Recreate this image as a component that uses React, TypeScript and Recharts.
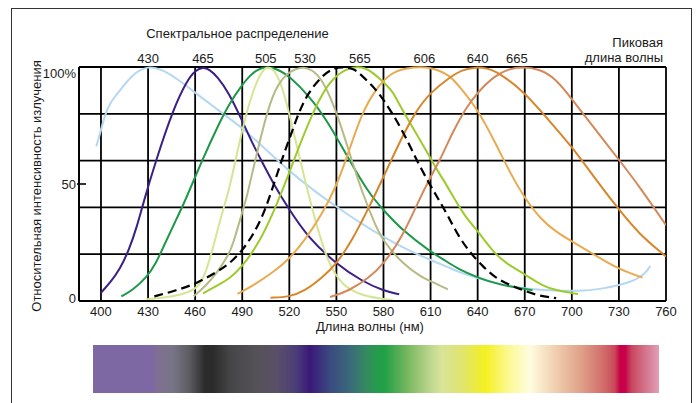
import React from 'react';
import { LineChart, Line, XAxis, YAxis, CartesianGrid } from 'recharts';

const FONT = '"Liberation Sans", Arial, Helvetica, sans-serif';

// wavelength grid / axis ticks
const bottomTicks = [400, 430, 460, 490, 520, 550, 580, 610, 640, 670, 700, 730, 760];
const peakTicks = [430, 465, 505, 530, 565, 606, 640, 665];
const yTicks = [0, 50, 100];
const yGridTicks = [0, 20, 40, 60, 80, 100];
const xDomain: [number, number] = [386, 760];

// series: [wavelength nm, relative intensity %]
const blue430: [number, number][] = [
  [397, 66], [400, 73], [402.5, 79.5], [406, 85], [412, 90], [420, 96.5], [425, 98.8], [430, 100],
  [435, 99.6], [440, 98.5], [450, 94.3], [460, 89], [470, 84], [481, 78.4], [490, 74], [503, 66],
  [519, 56], [535, 47.5], [550, 40.3], [566, 33], [580, 27.3], [596, 21.6], [610, 17.5], [622, 14.2],
  [628, 12.4], [640, 9.6], [658, 6.6], [670, 5.3], [690, 4.4], [705, 4.3], [718, 5], [730, 6.8],
  [738, 8.3], [743, 10], [747, 12], [750, 15],
];
const violet465: [number, number][] = [
  [400, 3.5], [406, 8], [412, 13.5], [418, 22], [423, 32], [427, 42], [435, 60], [446, 82],
  [455, 94.4], [460, 98.5], [465, 100], [469, 99], [474, 96], [481.5, 89], [490, 77], [496, 68],
  [503, 59], [510, 50], [519, 40], [532, 27], [550, 15.8], [566, 8.6], [580, 4.3], [590, 2.9],
];
const green505: [number, number][] = [
  [413, 2], [420, 4.5], [429, 10], [435, 16], [440, 23.5], [447, 33.5], [453.5, 42.5], [463, 58],
  [476, 77], [482, 84.5], [489, 91.5], [495, 96.5], [500, 99], [505, 100], [509, 99.7], [514, 98.5],
  [520, 96], [532.5, 87.8], [545, 76.3], [558, 60.4], [570.7, 46], [580, 38.8], [592, 30.2],
  [610, 21], [620, 17], [628, 13.5], [640, 10], [653, 7], [675, 4.6],
];
const pale508: [number, number][] = [
  [429, 0.7], [440, 1.5], [450, 2.5], [460, 4.7], [465, 9], [470, 19], [476, 35], [481.5, 47],
  [486, 61], [490, 73], [495, 86], [500, 95], [503, 98.5], [506, 100], [508.5, 99.5], [511, 98],
  [515.5, 92], [521.8, 75], [527, 60], [532.5, 44.6], [538.8, 29], [545, 16], [553.7, 6.5],
  [566, 2.2], [586, 0.3],
];
const olive530: [number, number][] = [
  [459, 2], [466, 6], [474, 12], [481.5, 20], [484, 24], [490, 38], [493, 44.5], [498.5, 61],
  [507, 84], [513, 93], [519, 97.5], [524, 99.2], [529, 100], [534, 99], [541, 95], [550, 81],
  [558, 64], [566, 47], [575, 32], [580, 25.5], [592, 16], [604.6, 10], [610, 8.5], [621, 5],
];
const dashed555: [number, number][] = [
  [434, 2], [448, 4.5], [461, 7.5], [474, 12.5], [482, 16], [490, 21.6], [496, 27.3], [503, 36],
  [509, 47.5], [515, 60], [521, 71], [526, 80.6], [532, 89], [541, 96.4], [548, 99.5], [554, 100],
  [561, 99.4], [566, 96.5], [575, 90.6], [581, 85], [588, 77.7], [596, 67.6], [602, 59], [609, 50.4],
  [615, 43.5], [621, 36.5], [628, 27.3], [636, 20], [643, 15], [651, 10], [660, 7], [670, 4.3],
  [679, 2.2], [690, 1.2],
];
const lime565: [number, number][] = [
  [465, 3.3], [475, 7], [481.5, 9.4], [490, 14.4], [503, 27.3], [513, 43], [519, 53], [527, 67.6],
  [537, 83.5], [545, 93.5], [556, 99.5], [564, 100], [568, 99.6], [573, 97.8], [580, 93.5],
  [586, 89.5], [590, 84], [600, 72.5], [610, 61], [615, 55], [619.5, 50.4], [624, 45], [632, 36],
  [640, 30], [649, 21.6], [658, 16], [670, 11.5], [681, 6.5], [690, 4.5], [704, 3],
];
const amber606: [number, number][] = [
  [487, 3], [498, 7], [511, 13], [519, 17.3], [530, 26], [541, 37.4], [550, 49], [558, 64],
  [566, 80], [575, 90.6], [585, 97.8], [595, 99.6], [604, 100], [610, 99.6], [615, 98.6],
  [622, 96.5], [628, 92], [640, 82], [651, 68], [662, 53], [670, 44], [680, 35], [690, 29.5],
  [700, 25.5], [715, 19.5], [730, 13.5], [745, 10],
];
const orange640: [number, number][] = [
  [508, 1.4], [520, 1.7], [530, 4.3], [541, 10], [550, 15.8], [560, 25.9], [571, 40.3], [580, 53],
  [590, 67.6], [600, 80.6], [610, 89.2], [622, 95.5], [630, 98.8], [639, 100], [646, 99.5],
  [653, 97.8], [670, 89.2], [683, 79], [700, 66], [713, 54], [730, 39], [743, 28.5], [760, 19],
];
const copper665: [number, number][] = [
  [546, 1.7], [558, 4.3], [571, 10], [580, 15.8], [592, 27.3], [602.5, 43], [610, 53], [615, 59],
  [620, 66], [624, 72], [632, 82], [640, 89.2], [651, 96.4], [660, 99.2], [668, 100], [679, 99.3],
  [690, 95], [700, 86.3], [713, 75], [720, 69], [730, 60.4], [743, 49], [760, 32.4],
];

const toRows = (pts: [number, number][]) => pts.map(([nm, v]) => ({ nm, v }));

const series = [
  { key: 'b430', pts: blue430, color: '#b5d8f2', dash: undefined as string | undefined },
  { key: 'v465', pts: violet465, color: '#3a1f85', dash: undefined },
  { key: 'g505', pts: green505, color: '#1c9848', dash: undefined },
  { key: 'p508', pts: pale508, color: '#d5e593', dash: undefined },
  { key: 'o530', pts: olive530, color: '#b6ba84', dash: undefined },
  { key: 'l565', pts: lime565, color: '#9dcb2c', dash: undefined },
  { key: 'a606', pts: amber606, color: '#e9aa50', dash: undefined },
  { key: 'r640', pts: orange640, color: '#d7862a', dash: undefined },
  { key: 'c665', pts: copper665, color: '#d4895a', dash: undefined },
  { key: 'd555', pts: dashed555, color: '#000000', dash: '9 5' },
];

const yLabels: Record<number, string> = { 0: '0', 50: '50', 100: '100%' };
const yDy: Record<number, number> = { 0: 2, 50: 4.6, 100: 11 };
const Y_LABEL_RIGHT = 76;

const YTick = (props: any) => {
  const { y, payload } = props;
  const v = payload.value as number;
  return (
    <g>
      <text x={Y_LABEL_RIGHT} y={y + yDy[v]} textAnchor="end" fontSize={13} fill="#1a1a1a" fontFamily={FONT}>
        {yLabels[v]}
      </text>
      {v === 50 ? <line x1={Y_LABEL_RIGHT + 1} x2={Y_LABEL_RIGHT + 10} y1={y} y2={y} stroke="#000" strokeWidth={1.6} /> : null}
    </g>
  );
};

const spectrum =
  'linear-gradient(to right, #7d68a4 0%, #7d68a4 10.6%, #807090 11.5%, #787488 14.1%, #5c5b60 17.1%, #2b2b2b 19.8%, #2b2b2b 21.2%, #454547 24.2%, #555258 28.9%, #5a5068 32.5%, #4a3c78 36%, #3a1878 38.3%, #3a4a80 41.9%, #3a6a7a 45.4%, #348a60 48.3%, #22a048 50.7%, #22a048 51.6%, #7ab860 55.7%, #c0d890 59.8%, #d8e498 61.6%, #e0e470 65.1%, #f5f020 69.3%, #fcf890 73.3%, #fefde0 77.2%, #f0d0b0 81.6%, #dfa088 86.3%, #d06868 90.5%, #c84858 92.2%, #c8004a 93.1%, #c8004a 94%, #c84860 95.2%, #e0a0b8 100%)';

export default function App() {
  return (
    <div style={{ position: 'fixed', left: 0, top: 0, width: 700, height: 403, overflow: 'hidden', background: '#fff', fontFamily: FONT }}>
      <div style={{ position: 'absolute', left: 0, top: 0 }}>
        <LineChart width={700} height={403} margin={{ top: 47, right: 34, bottom: 72, left: 19 }}>
          <CartesianGrid
            xAxisId="bottom"
            yAxisId="main"
            horizontalValues={yGridTicks}
            stroke="#000"
            strokeWidth={1.8}
            strokeDasharray=""
          />
          <XAxis
            xAxisId="bottom"
            dataKey="nm"
            type="number"
            domain={xDomain}
            ticks={bottomTicks}
            allowDataOverflow
            height={30}
            tickLine={false}
            tickSize={0}
            tickMargin={5.5}
            axisLine={{ stroke: '#000', strokeWidth: 1.8 }}
            tick={{ fontSize: 13, fill: '#1a1a1a', fontFamily: FONT }}
            interval={0}
          />
          <XAxis
            xAxisId="top"
            orientation="top"
            dataKey="nm"
            type="number"
            domain={xDomain}
            ticks={peakTicks}
            allowDataOverflow
            height={20}
            tickLine={false}
            tickSize={0}
            tickMargin={4}
            axisLine={false}
            tick={{ fontSize: 13, fill: '#1a1a1a', fontFamily: FONT }}
            interval={0}
          />
          <YAxis
            yAxisId="main"
            type="number"
            domain={[0, 100]}
            ticks={yTicks}
            width={60}
            tickLine={false}
            tickSize={0}
            tickMargin={3}
            axisLine={{ stroke: '#000', strokeWidth: 1.8 }}
            tick={<YTick />}
            interval={0}
          />
          {series.map((s) => (
            <Line
              key={s.key}
              xAxisId="bottom"
              yAxisId="main"
              data={toRows(s.pts)}
              dataKey="v"
              type="basis"
              stroke={s.color}
              strokeWidth={s.dash ? 2.2 : 2}
              strokeDasharray={s.dash}
              dot={false}
              activeDot={false}
              isAnimationActive={false}
            />
          ))}
        </LineChart>
      </div>
      <svg width={700} height={403} style={{ position: 'absolute', left: 0, top: 0, pointerEvents: 'none' }}>
        <text x={237.5} y={37.7} textAnchor="middle" fontSize={13} fill="#1a1a1a" fontFamily={FONT}>
          Спектральное распределение
        </text>
        <text x={663} y={46.5} textAnchor="end" fontSize={13} fill="#1a1a1a" fontFamily={FONT}>
          Пиковая
        </text>
        <text x={663} y={61.5} textAnchor="end" fontSize={13} fill="#1a1a1a" fontFamily={FONT}>
          длина волны
        </text>
        <text x={370} y={331} textAnchor="middle" fontSize={13} fill="#1a1a1a" fontFamily={FONT}>
          Длина волны (нм)
        </text>
        <text x={40.5} y={186} textAnchor="middle" fontSize={13} fill="#1a1a1a" fontFamily={FONT} transform="rotate(-90 40.5 186)">
          Относительная интенсивность излучения
        </text>
      </svg>
      <div style={{ position: 'absolute', left: 93, top: 345, width: 566, height: 48, background: spectrum }} />
      <div style={{ position: 'absolute', left: 11, top: 8, width: 681, height: 420, border: '1.5px solid #333', boxSizing: 'border-box', pointerEvents: 'none' }} />
    </div>
  );
}
